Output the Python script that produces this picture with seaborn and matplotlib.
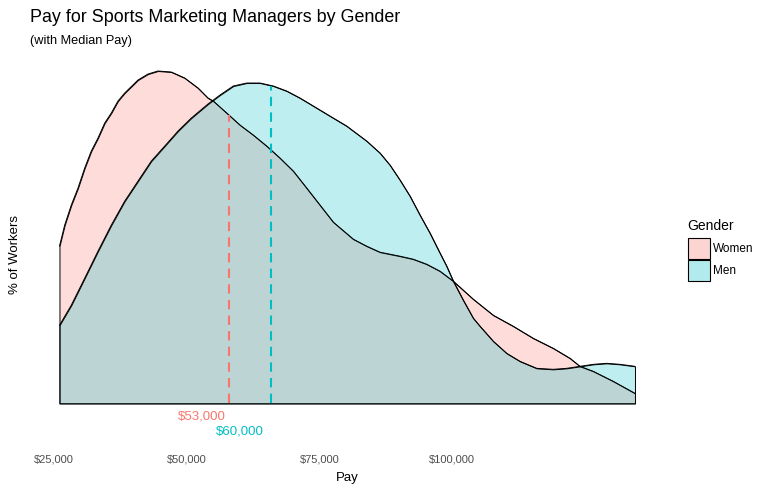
import pandas as pd
import numpy as np
import matplotlib
matplotlib.use("Agg")
import matplotlib.pyplot as plt
import seaborn as sns
from matplotlib.colors import to_rgba
from matplotlib.patches import Rectangle

# density curves (pay in $, relative density)
women_pay = [25000, 25860, 26950, 28060, 29170, 30260, 31370, 32480, 33570, 34680,
             35790, 37990, 39650, 41300, 43500, 45720, 47920, 49570, 50450, 52670,
             54870, 57070, 59290, 61490, 63690, 65910, 68110, 70310, 73620,
             75840, 78040, 81350, 83550, 85760, 87970, 90170, 93480, 96790, 100100,
             103400, 106710, 109480, 111130, 113330, 116640, 120230]
women_density = [1.57, 1.78, 1.98, 2.15, 2.35, 2.52, 2.65, 2.80, 2.90, 3.02,
                 3.10, 3.23, 3.29, 3.32, 3.31, 3.25, 3.15, 3.05, 3.02, 2.90,
                 2.78, 2.68, 2.57, 2.45, 2.32, 2.15, 1.98, 1.81, 1.64,
                 1.57, 1.51, 1.47, 1.44, 1.39, 1.32, 1.22, 1.04, 0.88, 0.77,
                 0.65, 0.55, 0.45, 0.37, 0.32, 0.22, 0.10]

men_pay = [25000, 26950, 29170, 31370, 33570, 35790, 37990, 40190, 42410, 44610,
           46810, 49570, 51560, 53760, 55980, 58180, 60380, 62600, 64800, 67560,
           70310, 72530, 75840, 78040, 79690, 81350, 83000, 84660, 86310, 87970,
           89070, 90170, 91820, 93480, 94590, 96790, 99000, 101200, 103970, 106710,
           108930, 111130, 113330, 115550, 117750, 120230]
men_density = [0.78, 0.98, 1.25, 1.52, 1.78, 2.02, 2.22, 2.42, 2.57, 2.72,
               2.85, 2.99, 3.08, 3.17, 3.20, 3.20, 3.17, 3.12, 3.05, 2.95,
               2.85, 2.77, 2.62, 2.50, 2.38, 2.23, 2.07, 1.88, 1.70, 1.50,
               1.37, 1.22, 1.03, 0.85, 0.77, 0.62, 0.50, 0.42, 0.35, 0.34,
               0.35, 0.37, 0.39, 0.40, 0.39, 0.37]

genders = ["Women", "Men"]
medians = [53000, 60000]
colors = ["#F8766D", "#00BFC4"]
tick_values = [25000, 50000, 75000, 100000]


def label_pos(v):
    # the original's labels sit on a slightly compressed scale
    return 24000 + 0.88 * (v - 25000)


df = pd.concat([
    pd.DataFrame({"Pay": women_pay, "Density": women_density, "Gender": "Women"}),
    pd.DataFrame({"Pay": men_pay, "Density": men_density, "Gender": "Men"}),
])

sns.set_style("white")
plt.rcParams["font.family"] = ["Liberation Sans", "DejaVu Sans"]
plt.rcParams["text.color"] = "black"

fig = plt.figure(figsize=(7.71, 4.93), dpi=100)
ax = fig.add_axes([30.7 / 771, 73 / 493, 633.1 / 771, 365.6 / 493])

for gender, color in zip(genders, colors):
    sub = df[df["Gender"] == gender]
    ax.fill_between(sub["Pay"], 0, sub["Density"], facecolor=to_rgba(color, 0.25),
                    edgecolor="black", linewidth=0.7)
    sns.lineplot(data=sub, x="Pay", y="Density", color="black", linewidth=0.7,
                 ax=ax, sort=False)

for gender, med, color, off in zip(genders, medians, colors, [-9.5, -20.5]):
    sub = df[df["Gender"] == gender]
    top = np.interp(med, sub["Pay"], sub["Density"])
    ax.plot([med, med], [0, top], color=color, linewidth=1.5, linestyle=(0, (4.5, 3)))
    ax.annotate(f"${med:,.0f}", xy=(label_pos(med), 0), xytext=(0, off),
                textcoords="offset points", ha="center", va="center",
                color=color, fontsize=9.5, annotation_clip=False)

ymax = max(max(women_density), max(men_density))
ax.set_xlim(20240, 125000)
ax.set_ylim(-0.05 * ymax, 1.05 * ymax)
ax.set_xticks([label_pos(v) for v in tick_values])
ax.set_xticklabels([f"${v:,.0f}" for v in tick_values])
ax.set_yticks([])
ax.tick_params(axis="x", length=0, pad=25, labelsize=8, labelcolor="#4D4D4D")
for s in ax.spines.values():
    s.set_visible(False)
ax.set_xlabel("Pay", fontsize=9.5, labelpad=5, color="black")
ax.set_ylabel("")
fig.text(15 / 771, 1 - 255 / 493, "% of Workers", rotation=90, ha="center",
         va="center", fontsize=9.5)

fig.text(30 / 771, 1 - 17 / 493, "Pay for Sports Marketing Managers by Gender",
         fontsize=12.9, va="center", ha="left")
fig.text(30 / 771, 1 - 41 / 493, "(with Median Pay)", fontsize=9.2,
         va="center", ha="left")

# legend
fig.text(687 / 771, 1 - 226 / 493, "Gender", fontsize=10, va="center", ha="left")
for i, (gender, color) in enumerate(zip(genders, colors)):
    y0 = 237.7 + i * 22.3
    fig.patches.append(Rectangle((688 / 771, 1 - (y0 + 21) / 493), 22 / 771, 21 / 493,
                                 transform=fig.transFigure, facecolor=to_rgba(color, 0.3),
                                 edgecolor="black", linewidth=0.8))
    fig.text(713 / 771, 1 - (y0 + 11) / 493, gender, fontsize=8.5, va="center", ha="left")

fig.savefig("out.png", dpi=100)
